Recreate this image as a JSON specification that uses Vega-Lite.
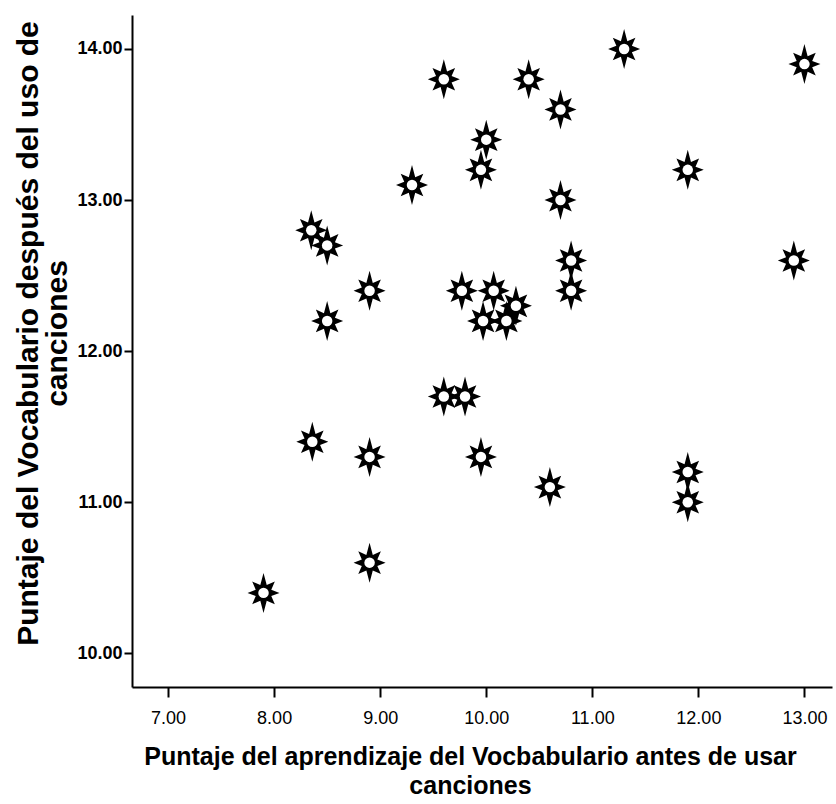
{
  "$schema": "https://vega.github.io/schema/vega-lite/v6.json",
  "width": 700,
  "height": 672,
  "autosize": "none",
  "padding": {"left": 132, "top": 15, "right": 4, "bottom": 117},
  "background": "white",
  "config": {"view": {"stroke": null}},
  "data": {"values": [
    {"antes": 7.9, "despues": 10.4},
    {"antes": 8.35, "despues": 12.8},
    {"antes": 8.5, "despues": 12.7},
    {"antes": 8.5, "despues": 12.2},
    {"antes": 8.36, "despues": 11.4},
    {"antes": 8.9, "despues": 12.4},
    {"antes": 8.9, "despues": 11.3},
    {"antes": 8.9, "despues": 10.6},
    {"antes": 9.3, "despues": 13.1},
    {"antes": 9.6, "despues": 13.8},
    {"antes": 9.6, "despues": 11.7},
    {"antes": 9.8, "despues": 11.7},
    {"antes": 9.77, "despues": 12.4},
    {"antes": 9.95, "despues": 13.2},
    {"antes": 10.0, "despues": 13.4},
    {"antes": 9.95, "despues": 11.3},
    {"antes": 9.97, "despues": 12.2},
    {"antes": 10.07, "despues": 12.4},
    {"antes": 10.19, "despues": 12.2},
    {"antes": 10.28, "despues": 12.3},
    {"antes": 10.4, "despues": 13.8},
    {"antes": 10.7, "despues": 13.6},
    {"antes": 10.7, "despues": 13.0},
    {"antes": 10.8, "despues": 12.6},
    {"antes": 10.8, "despues": 12.4},
    {"antes": 10.6, "despues": 11.1},
    {"antes": 11.3, "despues": 14.0},
    {"antes": 11.9, "despues": 13.2},
    {"antes": 11.9, "despues": 11.2},
    {"antes": 11.9, "despues": 11.0},
    {"antes": 12.9, "despues": 12.6},
    {"antes": 13.0, "despues": 13.9}
  ]},
  "encoding": {
    "x": {
      "field": "antes", "type": "quantitative",
      "scale": {"domain": [6.66, 13.26], "nice": false, "zero": false},
      "axis": {
        "values": [7, 8, 9, 10, 11, 12, 13], "format": ".2f", "grid": false,
        "domainColor": "black", "domainWidth": 2, "tickColor": "black", "tickWidth": 2, "tickSize": 10,
        "labelFont": "Liberation Sans", "labelFontSize": 18, "labelColor": "black", "labelPadding": 12,
        "title": ["Puntaje del aprendizaje del Vocbabulario antes de usar", "canciones"],
        "titleFont": "Liberation Sans", "titleFontWeight": "bold", "titleFontSize": 25, "titleColor": "black",
        "titlePadding": 17, "titleLineHeight": 29, "titleX": 338
      }
    },
    "y": {
      "field": "despues", "type": "quantitative",
      "scale": {"domain": [9.777, 14.225], "nice": false, "zero": false},
      "axis": {
        "values": [10, 11, 12, 13, 14], "format": ".2f", "grid": false,
        "domainColor": "black", "domainWidth": 2, "tickColor": "black", "tickWidth": 2, "tickSize": 8,
        "labelFont": "Liberation Sans", "labelFontSize": 18, "labelFontWeight": "bold", "labelColor": "black", "labelPadding": 2,
        "title": ["Puntaje del Vocabulario después del uso de", "canciones"],
        "titleFont": "Liberation Sans", "titleFontWeight": "bold", "titleFontSize": 30, "titleColor": "black",
        "titlePadding": 4, "titleLineHeight": 29, "titleY": 318
      }
    }
  },
  "layer": [
    {
      "mark": {
        "type": "point", "filled": true, "color": "black", "opacity": 1, "size": 1600,
        "shape": "M0,-1L0.1607,-0.388L0.5657,-0.5657L0.388,-0.1607L0.8,0L0.388,0.1607L0.5657,0.5657L0.1607,0.388L0,1L-0.1607,0.388L-0.5657,0.5657L-0.388,0.1607L-0.8,0L-0.388,-0.1607L-0.5657,-0.5657L-0.1607,-0.388Z"
      }
    },
    {
      "mark": {"type": "point", "shape": "circle", "filled": true, "color": "white", "opacity": 1, "size": 110}
    }
  ]
}
